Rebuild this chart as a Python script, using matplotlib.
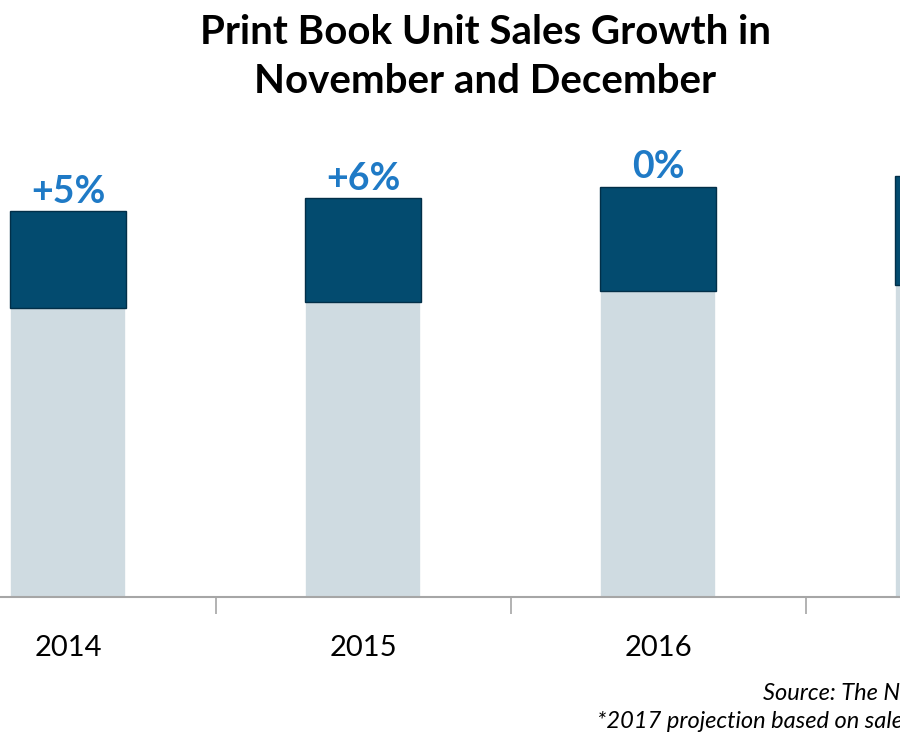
import matplotlib.pyplot as plt

plt.rcParams['font.family'] = ['Lato', 'DejaVu Sans']
plt.rcParams['savefig.bbox'] = 'standard'

# data (millions of units)
years = ['2014', '2015', '2016', '2017']
jan_oct = [474, 484, 503, 512]
nov_dec = [159, 171, 171, 179]
growth = ['+5%', '+6%', '0%', '+5%']

light = '#cfdbe1'
dark = '#034b6f'
blue = '#1f7ac6'

fig = plt.figure(figsize=(9, 7.5), dpi=100)
# the chart is cropped at the edges, so the axes fills the full width
ax = fig.add_axes([0, 0.204, 1, 0.622])
xmin, xmax = -0.2305, 2.82

x = range(len(years))
ax.bar(x, jan_oct, width=0.395, color=light, edgecolor='white', linewidth=1.2)
ax.bar(x, nov_dec, width=0.395, bottom=jan_oct, color=dark,
       edgecolor='#022f48', linewidth=1)

for i in x:
    if i > xmax:
        continue  # label falls outside the cropped view
    top = jan_oct[i] + nov_dec[i]
    ax.text(i, top + 4, growth[i], ha='center', va='bottom',
            fontsize=27, fontweight='bold', color=blue)

ax.set_xticks(list(x))
ax.set_xticklabels(years, fontsize=21)
ax.tick_params(axis='x', which='major', length=0, pad=27)
ax.set_xticks([0.5, 1.5, 2.5], minor=True)
ax.tick_params(axis='x', which='minor', length=12, width=1.2, color='#a6a6a6')
ax.set_yticks([])

# limits after the ticks, set_xticks would widen them again
ax.set_xlim(xmin, xmax)
ax.set_ylim(0, 766)

for s in ['top', 'right', 'left']:
    ax.spines[s].set_visible(False)
ax.spines['bottom'].set_color('#a6a6a6')
ax.spines['bottom'].set_linewidth(1.5)

fig.text(0.539, 0.982, 'Print Book Unit Sales Growth in\nNovember and December',
         ha='center', va='top', fontsize=29, fontweight='bold',
         linespacing=1.42)

fig.text(763 / 900, 1 - 694 / 750, 'Source: The NPD Group/BookScan',
         ha='left', va='center', fontsize=17, style='italic')
fig.text(597 / 900, 1 - 722 / 750, '*2017 projection based on sales through early December',
         ha='left', va='center', fontsize=17, style='italic')

fig.savefig('out.png', dpi=100)
